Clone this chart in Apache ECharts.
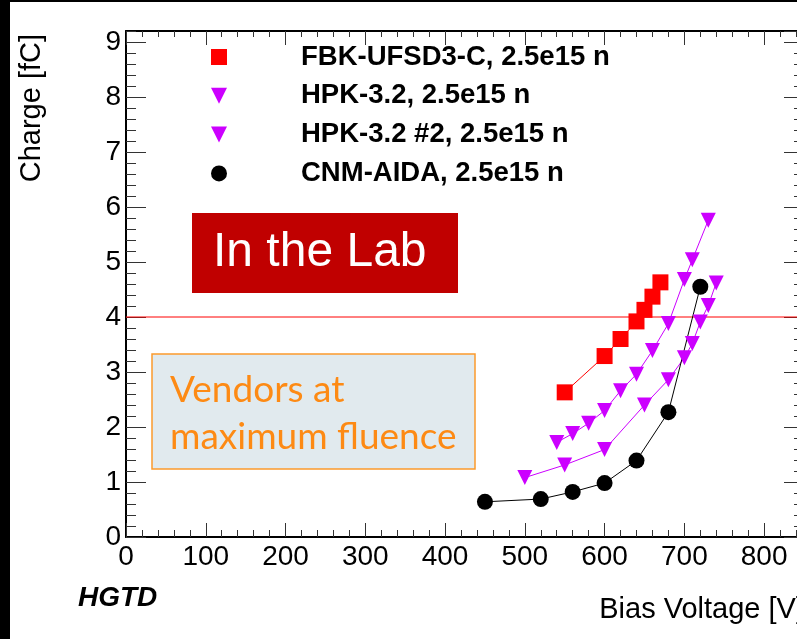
<!DOCTYPE html>
<html>
<head>
<meta charset="utf-8">
<script src="https://cdn.jsdelivr.net/npm/echarts@6/dist/echarts.min.js"></script>
<style>
  html, body { margin: 0; padding: 0; background: #000; width: 797px; height: 639px; overflow: hidden; position: relative; }
  #chart { position: absolute; left: 10px; top: 2px; width: 810px; height: 637px; background: #fff; }
</style>
</head>
<body>
<div id="chart"></div>
<script>
// Collected charge vs. bias voltage at 2.5e15 n fluence
const seriesNames = ['FBK-UFSD3-C, 2.5e15 n', 'HPK-3.2, 2.5e15 n', 'HPK-3.2 #2, 2.5e15 n', 'CNM-AIDA, 2.5e15 n'];

const fbkVoltage = [550, 600, 620, 640, 650, 660, 670];
const fbkCharge  = [2.63, 3.29, 3.60, 3.92, 4.13, 4.37, 4.63];

const hpkVoltage = [540, 560, 580, 600, 620, 640, 660, 680, 700, 710, 730];
const hpkCharge  = [1.72, 1.88, 2.07, 2.30, 2.66, 2.96, 3.39, 3.88, 4.68, 5.04, 5.76];

const hpk2Voltage = [500, 550, 600, 650, 680, 700, 710, 720, 730, 740];
const hpk2Charge  = [1.08, 1.31, 1.59, 2.40, 2.86, 3.26, 3.52, 3.91, 4.21, 4.62];

const cnmVoltage = [450, 520, 560, 600, 640, 680, 720];
const cnmCharge  = [0.64, 0.69, 0.82, 0.98, 1.39, 2.27, 4.55];

// 4 fC reference level, spanning the full voltage range
const thresholdCharge = 4;

const xTickLabels = [0, 100, 200, 300, 400, 500, 600, 700, 800];
const yTickLabels = [0, 1, 2, 3, 4, 5, 6, 7, 8, 9];

const X_MIN = 0, X_MAX = 850, Y_MIN = 0, Y_MAX = 9.2;

const pairs = (xs, ys) => xs.map((x, i) => [x, ys[i]]);

const FONT = '"Liberation Sans", Arial, Helvetica, sans-serif';
const RED = '#ff0000';
const MAGENTA = '#cc00ff';
const BLACK = '#000000';
const SQUARE = 'path://M0,0L10,0L10,10L0,10Z';
const TRI_DOWN = 'path://M0,0L10,0L5,10Z';

function frameAxis(dim, position, opts) {
  const base = {
    type: 'value', position: position, min: dim === 'x' ? X_MIN : Y_MIN, max: dim === 'x' ? X_MAX : Y_MAX,
    interval: opts.interval, splitLine: { show: false },
    axisLine: { show: opts.line, onZero: false, lineStyle: { color: '#000', width: 2 } },
    axisTick: { show: true, inside: true, length: opts.tick, lineStyle: { color: '#333', width: 1 } },
    axisLabel: { show: false }, minorTick: { show: false }, axisPointer: { show: false }
  };
  if (opts.labels) {
    base.axisLabel = {
      show: true, showMaxLabel: false, color: '#000', fontFamily: FONT, fontSize: 28,
      margin: dim === 'x' ? 6 : 5,
      formatter: v => {
        const list = dim === 'x' ? xTickLabels : yTickLabels;
        return list.indexOf(Math.round(v)) >= 0 && Math.abs(v - Math.round(v)) < 1e-6 ? String(Math.round(v)) : '';
      }
    };
  }
  return base;
}

const xAxes = [
  Object.assign(frameAxis('x', 'bottom', { interval: 100, tick: 14, line: true, labels: true }), {
    name: 'Bias Voltage [V]', nameLocation: 'end', nameGap: 0,
    nameTextStyle: { color: '#000', fontFamily: FONT, fontSize: 29, align: 'right', verticalAlign: 'top', padding: [58, 0, 0, 0] }
  }),
  frameAxis('x', 'bottom', { interval: 20, tick: 7, line: false }),
  frameAxis('x', 'top', { interval: 100, tick: 14, line: true }),
  frameAxis('x', 'top', { interval: 20, tick: 6, line: false })
];

const yAxes = [
  Object.assign(frameAxis('y', 'left', { interval: 1, tick: 20, line: true, labels: true }), {
    name: 'Charge [fC]', nameLocation: 'end', nameRotate: 90, nameGap: -3,
    nameTextStyle: { color: '#000', fontFamily: FONT, fontSize: 29, align: 'right', verticalAlign: 'bottom', padding: [0, 0, 80, 0] }
  }),
  frameAxis('y', 'left', { interval: 0.2, tick: 10, line: false }),
  frameAxis('y', 'right', { interval: 1, tick: 20, line: true }),
  frameAxis('y', 'right', { interval: 0.2, tick: 10, line: false })
];

function lineSeries(name, data, color, symbol, size, extra) {
  return Object.assign({
    name: name, type: 'line', data: data, xAxisIndex: 0, yAxisIndex: 0,
    symbol: symbol, symbolSize: size, showSymbol: true, showAllSymbol: true,
    itemStyle: { color: color, borderWidth: 0 },
    lineStyle: { color: color, width: 1 },
    emphasis: { disabled: true }, silent: true, clip: true
  }, extra || {});
}

const series = [
  {
    name: 'threshold', type: 'line', xAxisIndex: 0, yAxisIndex: 0, silent: true, z: 1,
    data: [[X_MIN, thresholdCharge], [X_MAX, thresholdCharge]],
    symbol: 'none', color: RED,
    itemStyle: { color: RED }, lineStyle: { color: RED, width: 1, type: 'solid' },
    emphasis: { disabled: true }
  },
  lineSeries(seriesNames[0], pairs(fbkVoltage, fbkCharge), RED, SQUARE, 16),
  lineSeries(seriesNames[1], pairs(hpkVoltage, hpkCharge), MAGENTA, TRI_DOWN, 15),
  lineSeries(seriesNames[2], pairs(hpk2Voltage, hpk2Charge), MAGENTA, TRI_DOWN, 15),
  lineSeries(seriesNames[3], pairs(cnmVoltage, cnmCharge), BLACK, 'circle', 16)
];

const chart = echarts.init(document.getElementById('chart'), null, { renderer: 'canvas' });
chart.setOption({
  animation: false,
  backgroundColor: '#ffffff',
  tooltip: { show: false },
  grid: { left: 116, top: 29, width: 678, bottom: 102, containLabel: false },
  xAxis: xAxes,
  yAxis: yAxes,
  legend: {
    orient: 'vertical', left: 196, top: 36, itemWidth: 154, itemHeight: 16, itemGap: 10.8,
    selectedMode: false, symbolKeepAspect: true,
    itemStyle: { borderWidth: 0 },
    textStyle: { color: '#000', fontFamily: FONT, fontWeight: 'bold', fontSize: 27.5, lineHeight: 16 },
    data: [
      { name: seriesNames[0], icon: SQUARE },
      { name: seriesNames[1], icon: TRI_DOWN },
      { name: seriesNames[2], icon: TRI_DOWN },
      { name: seriesNames[3], icon: 'circle' }
    ]
  },
  graphic: [
    { type: 'rect', silent: true, z: 10, shape: { x: 182, y: 211, width: 266, height: 80 }, style: { fill: '#c00000' } },
    { type: 'text', silent: true, z: 11, x: 203, y: 251,
      style: { text: 'In the Lab', fill: '#ffffff', font: '48px "Liberation Sans", Arial, sans-serif', align: 'left', verticalAlign: 'middle' } },
    { type: 'rect', silent: true, z: 10, shape: { x: 142, y: 352, width: 323, height: 115 },
      style: { fill: '#e1eaee', stroke: '#fb9a2c', lineWidth: 1.5 } },
    { type: 'text', silent: true, z: 11, x: 160, y: 388,
      style: { text: 'Vendors at', fill: '#fd8a14', font: '37px Lato, "Open Sans", sans-serif', align: 'left', verticalAlign: 'middle' } },
    { type: 'text', silent: true, z: 11, x: 160, y: 435,
      style: { text: 'maximum fluence', fill: '#fd8a14', font: '37px Lato, "Open Sans", sans-serif', align: 'left', verticalAlign: 'middle' } },
    { type: 'text', silent: true, z: 11, x: 68, y: 596,
      style: { text: 'HGTD', fill: '#000', font: 'italic bold 28px "Liberation Sans", Arial, sans-serif', align: 'left', verticalAlign: 'middle' } }
  ],
  series: series
});
</script>
</body>
</html>
